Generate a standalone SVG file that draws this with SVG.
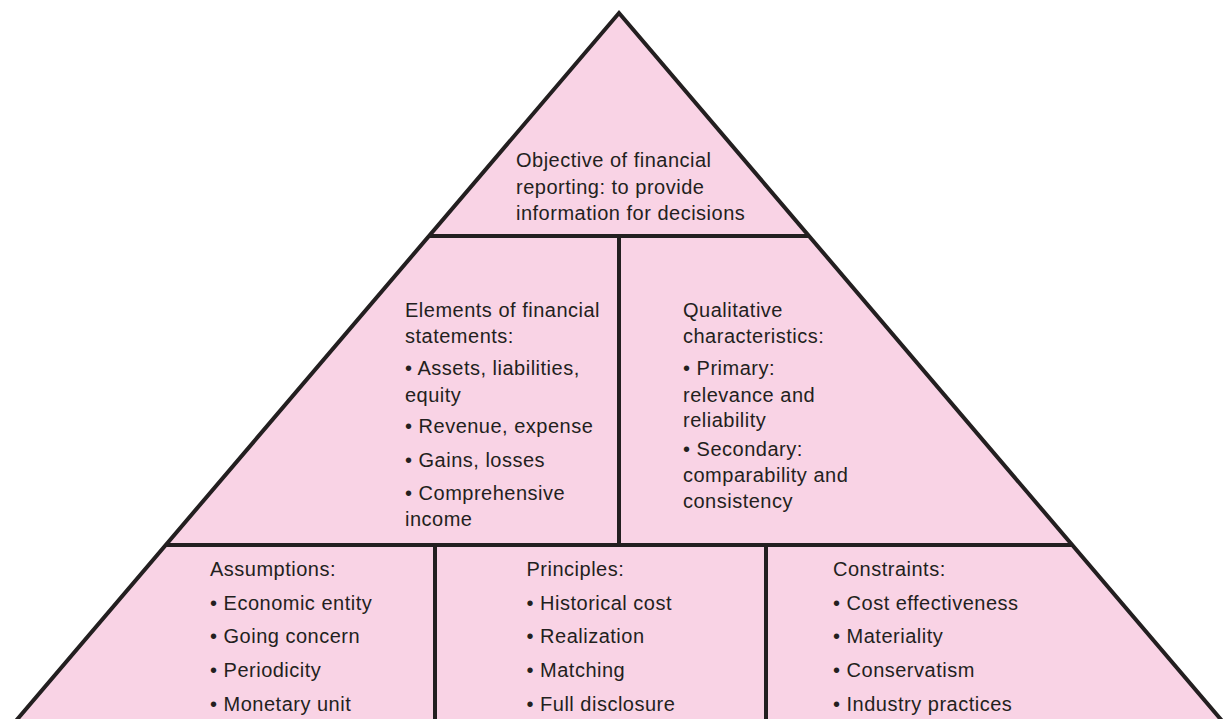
<svg xmlns="http://www.w3.org/2000/svg" width="1230" height="719" viewBox="0 0 1230 719">
  <style>
    .frame { fill: #f9d3e5; stroke: #231f20; stroke-width: 4; stroke-linejoin: miter; stroke-miterlimit: 10; }
    .rule { stroke: #231f20; stroke-width: 4; fill: none; }
    text { font-family: "Liberation Sans", Arial, sans-serif; font-size: 20px; letter-spacing: 0.5px; fill: #231f20; }
  </style>
  <rect width="1230" height="719" fill="#ffffff"/>

  <!-- pyramid outline; base edge sits below the canvas -->
  <polygon class="frame" points="619,13 1225.6,725 12.4,725"/>

  <!-- dividing rules between the tiers -->
  <g id="connectors">
    <line class="rule" x1="429" y1="236" x2="809" y2="236"/>
    <line class="rule" x1="165.7" y1="545" x2="1072.3" y2="545"/>
    <line class="rule" x1="619" y1="236" x2="619" y2="545"/>
    <line class="rule" x1="435" y1="545" x2="435" y2="725"/>
    <line class="rule" x1="766" y1="545" x2="766" y2="725"/>
  </g>

  <g id="objective">
    <text x="516" y="167">Objective of financial</text>
    <text x="516" y="193.5">reporting: to provide</text>
    <text x="516" y="220">information for decisions</text>
  </g>

  <g id="elements">
    <text x="405" y="316.7">Elements of financial</text>
    <text x="405" y="343">statements:</text>
    <text x="405" y="375">• Assets, liabilities,</text>
    <text x="405" y="401.7">equity</text>
    <text x="405" y="432.7">• Revenue, expense</text>
    <text x="405" y="467.3">• Gains, losses</text>
    <text x="405" y="500">• Comprehensive</text>
    <text x="405" y="526">income</text>
  </g>

  <g id="qualitative">
    <text x="683" y="316.7">Qualitative</text>
    <text x="683" y="343.3">characteristics:</text>
    <text x="683" y="375">• Primary:</text>
    <text x="683" y="401.7">relevance and</text>
    <text x="683" y="427.3">reliability</text>
    <text x="683" y="455.7">• Secondary:</text>
    <text x="683" y="481.7">comparability and</text>
    <text x="683" y="508.3">consistency</text>
  </g>

  <g id="assumptions">
    <text x="210" y="576">Assumptions:</text>
    <text x="210" y="610">• Economic entity</text>
    <text x="210" y="643.3">• Going concern</text>
    <text x="210" y="677.3">• Periodicity</text>
    <text x="210" y="710.7">• Monetary unit</text>
  </g>

  <g id="principles">
    <text x="526.5" y="576">Principles:</text>
    <text x="526.5" y="610">• Historical cost</text>
    <text x="526.5" y="643.3">• Realization</text>
    <text x="526.5" y="677.3">• Matching</text>
    <text x="526.5" y="710.7">• Full disclosure</text>
  </g>

  <g id="constraints">
    <text x="833" y="576">Constraints:</text>
    <text x="833" y="610">• Cost effectiveness</text>
    <text x="833" y="643.3">• Materiality</text>
    <text x="833" y="677.3">• Conservatism</text>
    <text x="833" y="710.7">• Industry practices</text>
  </g>
</svg>
